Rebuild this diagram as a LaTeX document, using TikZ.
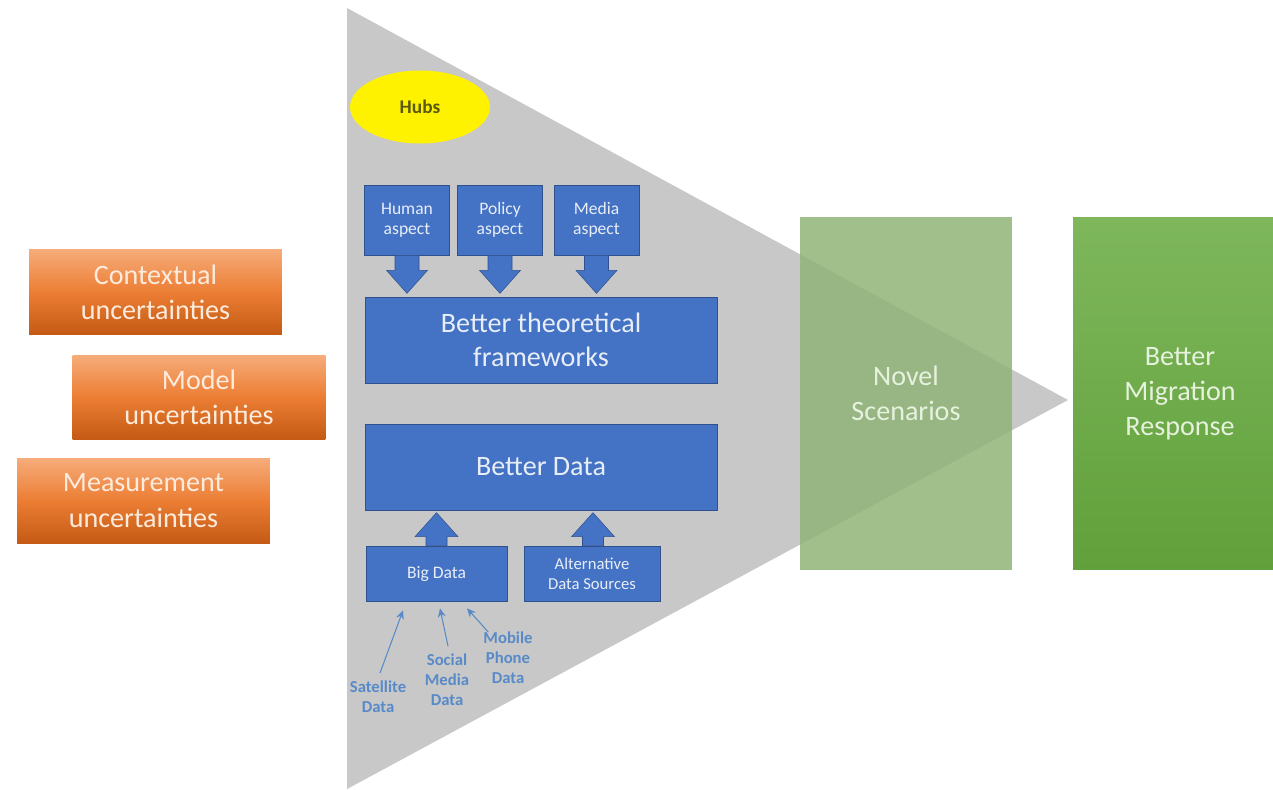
\documentclass[tikz,border=0pt]{standalone}
\usepackage{fontspec}
\setmainfont{Carlito}
\usepackage{tikz}
\usetikzlibrary{shapes.geometric,arrows.meta,calc}

\definecolor{trigray}{RGB}{200,200,200}
\definecolor{boxblue}{RGB}{68,114,196}
\definecolor{boxline}{RGB}{47,82,143}
\definecolor{bluetext}{RGB}{232,238,248}
\definecolor{labelblue}{RGB}{88,138,200}
\definecolor{orgtop}{RGB}{246,172,122}
\definecolor{orgmid}{RGB}{236,126,52}
\definecolor{orgbot}{RGB}{196,90,20}
\definecolor{orgtext}{RGB}{253,235,221}
\definecolor{novgreen}{RGB}{143,180,119}
\definecolor{migtop}{RGB}{126,183,92}
\definecolor{migbot}{RGB}{97,160,58}
\definecolor{greentext}{RGB}{230,242,222}
\definecolor{hubtext}{RGB}{90,90,10}

\tikzset{
	uncbox/.style={rectangle, top color=orgtop, bottom color=orgbot, middle color=orgmid, text=orgtext, align=center, minimum width=5.06cm, minimum height=1.7cm, font=\fontsize{16}{20}\selectfont},
	bluebox/.style={rectangle, fill=boxblue, draw=boxline, line width=0.4pt, text=bluetext, align=center},
	aspectbox/.style={bluebox, minimum width=1.7cm, minimum height=1.4cm, font=\fontsize{10}{11.3}\selectfont},
	blockfill/.style={fill=boxblue, draw=boxline, line width=0.3pt},
	pics/blockdown/.style={code={
		\path[blockfill] (-12,0) -- (12,0) -- (12,15) -- (20.5,15) -- (0,38) -- (-20.5,15) -- (-12,15) -- cycle;
	}},
	pics/blockup/.style={code={
		\path[blockfill] (-10.5,0) -- (10.5,0) -- (10.5,-9) -- (21.5,-9) -- (0,-33) -- (-21.5,-9) -- (-10.5,-9) -- cycle;
	}},
	srclabel/.style={text=labelblue, align=center, inner sep=1pt, font=\fontsize{9.5}{11.3}\selectfont\bfseries},
	srcarrow/.style={-{Stealth[length=5pt,width=4.5pt]}, draw=labelblue, line width=0.6pt}
}

\begin{document}
\begin{tikzpicture}[x=0.02cm, y=-0.02cm]
	\useasboundingbox (0,0) rectangle (1273,789);

	% big gray funnel
	\fill[trigray] (347,8) -- (1068,400) -- (347,789) -- cycle;

	\node[ellipse, fill=yellow, minimum width=2.8cm, minimum height=1.46cm, text=hubtext, font=\fontsize{11}{13}\selectfont\bfseries] (hubs) at (420,107) {Hubs};

	\node[uncbox] (ctx) at (155.5,292) {Contextual\\uncertainties};
	\node[uncbox, minimum height=1.68cm] (model) at (199,397) {Model\\uncertainties};
	\node[uncbox] (meas) at (143.5,500.5) {Measurement\\uncertainties};

	\node[aspectbox] (human) at (407,220) {Human\\aspect};
	\node[aspectbox] (policy) at (500,220) {Policy\\aspect};
	\node[aspectbox] (media) at (596.5,220) {Media\\aspect};

	\node[bluebox, minimum width=7.04cm, minimum height=1.72cm, font=\fontsize{16}{19.2}\selectfont] (theory) at (541,340) {Better theoretical\\frameworks};
	\node[bluebox, minimum width=7.04cm, minimum height=1.72cm, font=\fontsize{16}{19.2}\selectfont] (better) at (541,467) {Better Data};

	\node[bluebox, minimum width=2.82cm, minimum height=1.1cm, font=\fontsize{10}{11.3}\selectfont] (big) at (436.5,573.5) {Big Data};
	\node[bluebox, minimum width=2.72cm, minimum height=1.1cm, font=\fontsize{9.5}{11.3}\selectfont] (alt) at (592,573.5) {Alternative\\Data Sources};

	% block arrows into the two blue bars
	\foreach \a in {human,policy,media}
		\pic at (\a.south) {blockdown};
	\pic at (big.north) {blockup};
	\pic at ($(alt.north)+(1,0)$) {blockup};

	% sources of big data
	\node[srclabel] (sat) at (378,697) {Satellite\\Data};
	\node[srclabel] (soc) at (447,680) {Social\\Media\\Data};
	\node[srclabel] (mob) at (508,658) {Mobile\\Phone\\Data};

	\draw[srcarrow] ($(sat.north)+(2,-6)$) -- ($(big.south)+(-33.5,9)$); % satellite
	\draw[srcarrow] ($(soc.north)+(1,-6)$) -- ($(big.south)+(3.5,7)$); % social media
	\draw[srcarrow] ($(mob.north west)+(7,2)$) -- ($(big.south)+(30.5,7)$); % mobile phone

	\node[rectangle, fill=novgreen, fill opacity=0.85, text opacity=1, text=greentext, minimum width=4.24cm, minimum height=7.06cm, align=center, font=\fontsize{16}{20}\selectfont] (novel) at (906,393.5) {Novel\\Scenarios};
	\node[rectangle, top color=migtop, bottom color=migbot, text=greentext, minimum width=4.28cm, minimum height=7.06cm, align=center, font=\fontsize{16}{20}\selectfont] (resp) at (1180,393.5) {Better\\Migration\\Response};
\end{tikzpicture}
\end{document}
